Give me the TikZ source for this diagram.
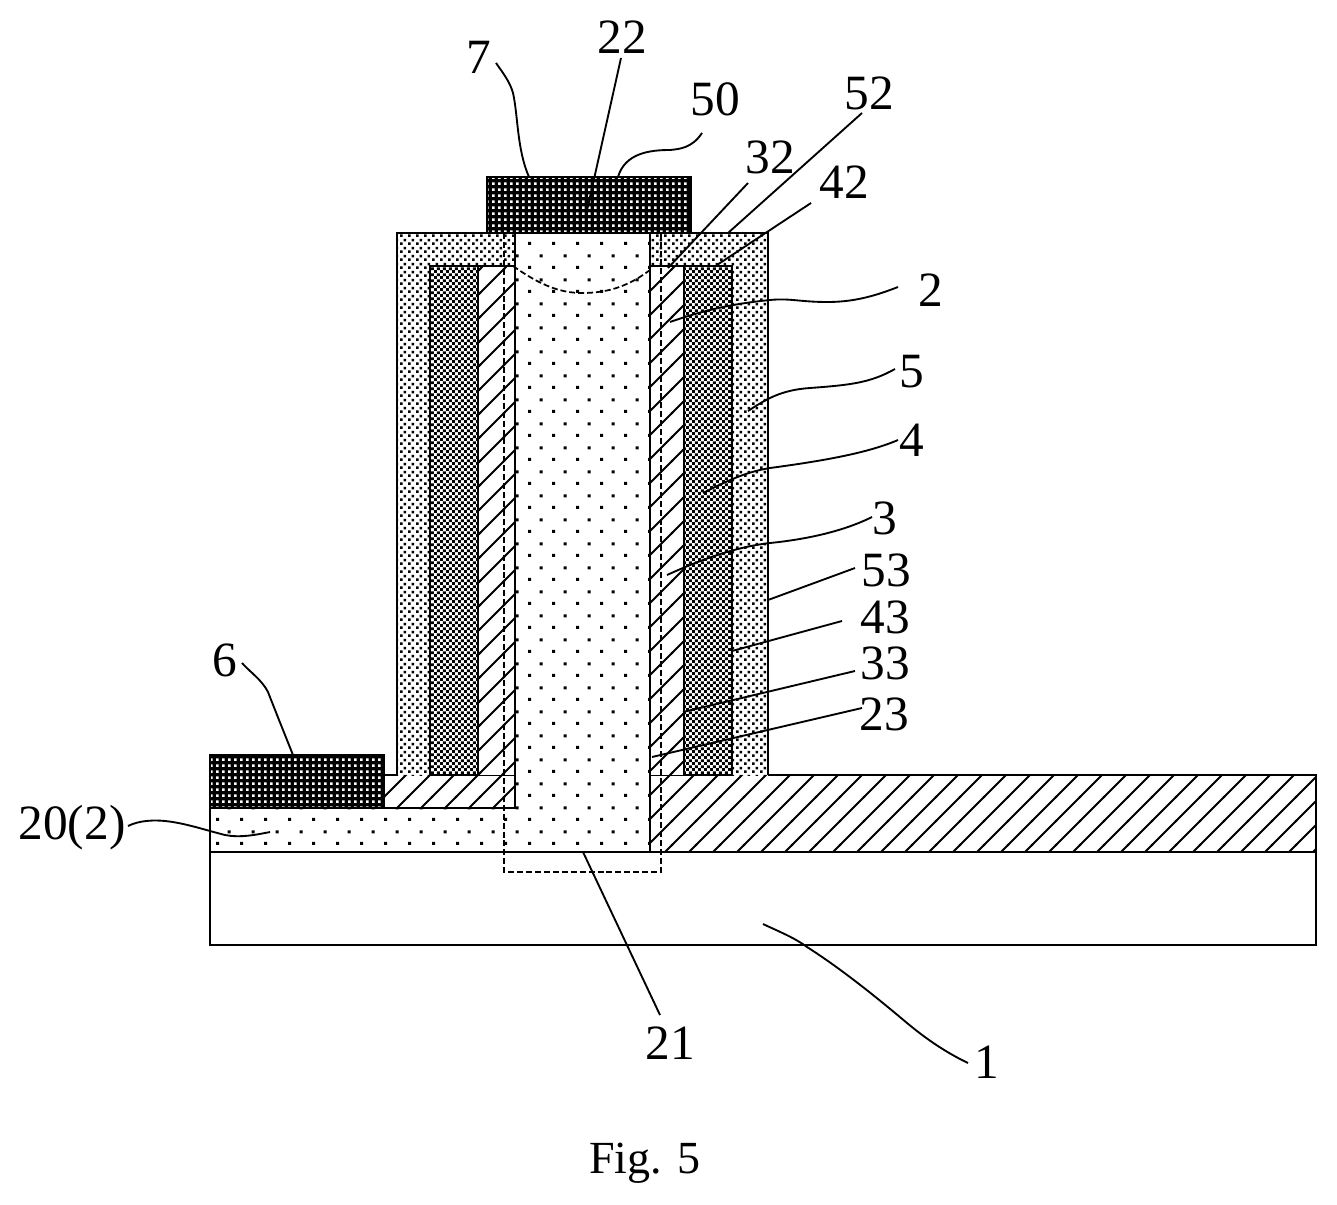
\documentclass[tikz,border=0pt]{standalone}
\usepackage{fontspec}
\setmainfont{Liberation Serif}
\usepackage{xcolor}
\usepackage{tikz}
\usetikzlibrary{patterns,calc}
% pattern tiles, 1 px of the drawing = 0.75pt
\pgfdeclarepatternformonly{coredots}{\pgfpointorigin}{\pgfpoint{18pt}{18pt}}{\pgfpoint{18pt}{18pt}}{
  \pgfpathrectangle{\pgfpoint{0pt}{0pt}}{\pgfpoint{2.4pt}{2.4pt}}
  \pgfpathrectangle{\pgfpoint{9pt}{9pt}}{\pgfpoint{2.4pt}{2.4pt}}
  \pgfusepath{fill}}
\pgfdeclarepatternformonly{finedots}{\pgfpointorigin}{\pgfpoint{6pt}{6pt}}{\pgfpoint{6pt}{6pt}}{
  \pgfpathrectangle{\pgfpoint{0pt}{0pt}}{\pgfpoint{2.2pt}{2.2pt}}
  \pgfpathrectangle{\pgfpoint{3pt}{3pt}}{\pgfpoint{2.2pt}{2.2pt}}
  \pgfusepath{fill}}
\pgfdeclarepatternformonly{checks}{\pgfpointorigin}{\pgfpoint{4.4pt}{4.4pt}}{\pgfpoint{4.4pt}{4.4pt}}{
  \pgfpathrectangle{\pgfpoint{0pt}{0pt}}{\pgfpoint{2.2pt}{2.2pt}}
  \pgfpathrectangle{\pgfpoint{2.2pt}{2.2pt}}{\pgfpoint{2.2pt}{2.2pt}}
  \pgfusepath{fill}}
\pgfdeclarepatternformonly{darkholes}{\pgfpointorigin}{\pgfpoint{4.5pt}{4.5pt}}{\pgfpoint{4.5pt}{4.5pt}}{
  \pgfpathrectangle{\pgfpoint{0pt}{0pt}}{\pgfpoint{2.2pt}{2.2pt}}
  \pgfusepath{fill}}
\pgfdeclarepatternformonly{slant}{\pgfpoint{-1pt}{-1pt}}{\pgfpoint{19pt}{19pt}}{\pgfpoint{18pt}{18pt}}{
  \pgfsetlinewidth{1.5pt}
  \pgfpathmoveto{\pgfpoint{-1pt}{-1pt}}
  \pgfpathlineto{\pgfpoint{19pt}{19pt}}
  \pgfusepath{stroke}}
\tikzset{
  figline/.style={draw, line width=1.7pt},
  figcore/.style={figline, pattern=coredots},
  figshell/.style={figline, pattern=finedots},
  figgate/.style={figline, preaction={fill=white}, pattern=checks},
  fighatch/.style={figline, preaction={fill=white}, pattern=slant},
  figpad/.style={figline, preaction={fill=black}, pattern=darkholes, pattern color=white},
  figdash/.style={line width=1.3pt, dash pattern=on 4.5pt off 2.2pt},
  figleader/.style={line width=1.4pt},
  figlabel/.style={font=\fontsize{37}{37}\selectfont, inner sep=0pt},
}

\begin{document}
\begin{tikzpicture}[x=0.75pt, y=-0.75pt]
	\useasboundingbox (0,0) rectangle (1337,1205);

	% Substrate and bottom hatched layer
	\draw[figline] (210,852) rectangle (1316,945);
	\path[fighatch, draw=none] (650,775) rectangle (1316,852);
	\draw[figline] (768,775) -- (1316,775) -- (1316,852);
	\path[fighatch, draw=none] (384,775) rectangle (515,808);
	\draw[figline] (384,775) -- (397,775);

	% Pillar shells, outside to inside
	\draw[figshell] (397,775) -- (397,233) -- (768,233) -- (768,775);
	\draw[figgate] (430,775) -- (430,266) -- (732,266) -- (732,775) -- cycle;
	\path[fighatch, draw=none] (478,266) rectangle (684,775);
	\draw[figline] (478,775) -- (478,266) -- (684,266) -- (684,775);

	% Core with its foot 20(2)
	\draw[figcore, preaction={fill=white}] (210,808) -- (515,808) -- (515,233) -- (650,233) -- (650,852) -- (210,852) -- cycle;
	\draw[figline] (210,852) -- (1316,852);

	% Contact pads
	\draw[figpad] (210,755) rectangle (384,808);
	\draw[figpad] (487,177) rectangle (691,233);

	% Dashed outlines
	\draw[figdash] (504,233) -- (504,872) -- (661,872) -- (661,233);
	\draw[figdash] (513,266) .. controls (540,285) and (560,293) .. (582,293) .. controls (610,293) and (630,285) .. (650,270);

	% Labels
	\node[figlabel] (lbl7) at (479,57) {7};
	\node[figlabel] (lbl22) at (622,37) {22};
	\node[figlabel] (lbl50) at (715,99) {50};
	\node[figlabel] (lbl52) at (869,93) {52};
	\node[figlabel] (lbl32) at (770,157) {32};
	\node[figlabel] (lbl42) at (844,182) {42};
	\node[figlabel] (lbl2) at (931,290) {2};
	\node[figlabel] (lbl5) at (912,372) {5};
	\node[figlabel] (lbl4) at (912,440) {4};
	\node[figlabel] (lbl3) at (885,518) {3};
	\node[figlabel] (lbl53) at (886,570) {53};
	\node[figlabel] (lbl43) at (885,617) {43};
	\node[figlabel] (lbl33) at (885,663) {33};
	\node[figlabel] (lbl23) at (884,714) {23};
	\node[figlabel] (lbl6) at (225,660) {6};
	\node[figlabel] (lbl20) at (72,828) {20(2)};
	\node[figlabel] (lbl21) at (670,1043) {21};
	\node[figlabel] (lbl1) at (987,1062) {1};
	\node[font=\fontsize{34.5}{34.5}\selectfont, inner sep=0pt] (figcap) at (645,1163) {Fig. 5};

	% Leader ends inside the drawing
	\coordinate (tip7) at (529,177);
	\coordinate (tip22) at (586,215);
	\coordinate (tip50) at (618,177);
	\coordinate (tip52) at (728,233);
	\coordinate (tip32) at (668,268);
	\coordinate (tip42) at (717,265);
	\coordinate (tip2) at (670,322);
	\coordinate (tip5) at (748,411);
	\coordinate (tip4) at (703,493);
	\coordinate (tip3) at (667,575);
	\coordinate (tip53) at (768,600);
	\coordinate (tip43) at (732,651);
	\coordinate (tip33) at (683,712);
	\coordinate (tip23) at (652,757);
	\coordinate (tip6) at (293,755);
	\coordinate (tip20) at (270,832);
	\coordinate (tip21) at (583,852);
	\coordinate (tip1) at (763,924);

	% Leaders, each one starts a little off its label
	\draw[figleader] ([shift={(17,6)}]lbl7.center) .. controls (503,73) and (510,82) .. (513,93) .. controls (518,115) and (517,150) .. (tip7);
	\draw[figleader] ([shift={(-1,21)}]lbl22.center) -- (tip22);
	\draw[figleader] ([shift={(-13,34)}]lbl50.center) .. controls (692,148) and (680,149) .. (670,150) .. controls (650,150) and (625,153) .. (tip50);
	\draw[figleader] ([shift={(-7,20)}]lbl52.center) -- (tip52);
	\draw[figleader] ([shift={(-22,26)}]lbl32.center) -- (tip32);
	\draw[figleader] ([shift={(-33,21)}]lbl42.center) -- (tip42);
	\draw[figleader] ([shift={(-33,-3)}]lbl2.center) .. controls (870,298) and (850,302) .. (827,302) .. controls (800,302) and (790,298) .. (770,300) .. controls (740,303) and (710,308) .. (tip2);
	\draw[figleader] ([shift={(-17,-3)}]lbl5.center) .. controls (870,383) and (850,385) .. (810,388) .. controls (780,390) and (765,400) .. (tip5);
	\draw[figleader] ([shift={(-14,0)}]lbl4.center) .. controls (870,452) and (830,460) .. (770,468) .. controls (745,472) and (725,482) .. (tip4);
	\draw[figleader] ([shift={(-13,-1)}]lbl3.center) .. controls (840,533) and (800,540) .. (770,543) .. controls (735,547) and (700,560) .. (tip3);
	\draw[figleader] ([shift={(-31,-2)}]lbl53.center) -- (tip53);
	\draw[figleader] ([shift={(-43,4)}]lbl43.center) -- (tip43);
	\draw[figleader] ([shift={(-30,8)}]lbl33.center) -- (tip33);
	\draw[figleader] ([shift={(-22,-6)}]lbl23.center) -- (tip23);
	\draw[figleader] ([shift={(17,3)}]lbl6.center) .. controls (250,672) and (262,680) .. (268,692) .. controls (275,710) and (285,735) .. (tip6);
	\draw[figleader] ([shift={(56,-2)}]lbl20.center) .. controls (140,820) and (155,820) .. (165,821) .. controls (185,823) and (205,830) .. (225,835) .. controls (240,838) and (255,835) .. (tip20);
	\draw[figleader] ([shift={(-10,-28)}]lbl21.center) -- (tip21);
	\draw[figleader] ([shift={(-19,1)}]lbl1.center) .. controls (945,1052) and (925,1038) .. (907,1023) .. controls (875,996) and (840,968) .. (807,947) .. controls (795,938) and (780,932) .. (tip1);
\end{tikzpicture}
\end{document}
